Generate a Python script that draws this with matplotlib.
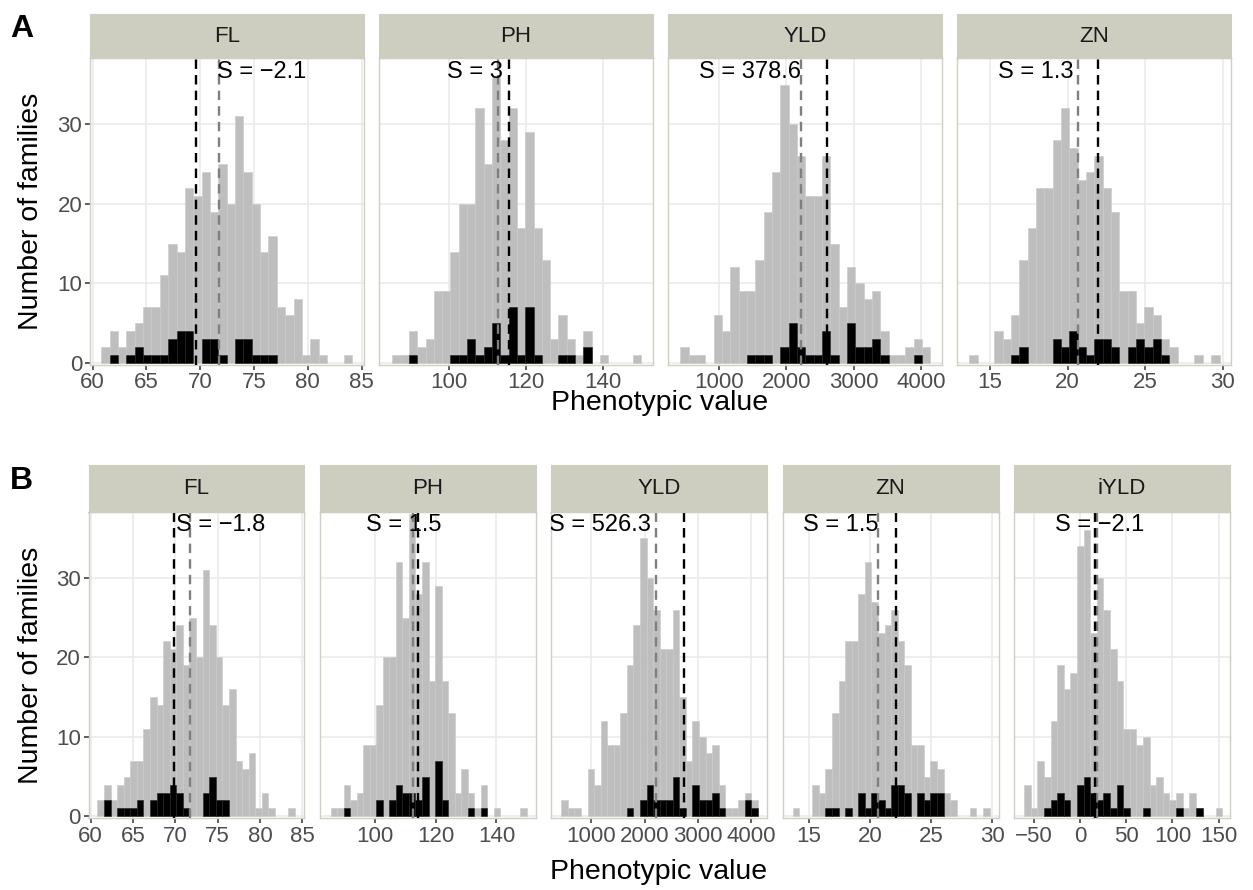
import numpy as np
import matplotlib
matplotlib.use("Agg")
import matplotlib.pyplot as plt

plt.rcParams['font.family'] = ['Liberation Sans', 'DejaVu Sans']

# ---------------- data ----------------
traits_A = ["FL", "PH", "YLD", "ZN"]
traits_B = ["FL", "PH", "YLD", "ZN", "iYLD"]

# histogram bins (30 bins per trait): first edge and bin width
bin_start = {"FL": 60.8, "PH": 85.3, "YLD": 433.0, "ZN": 13.67, "iYLD": -60.5}
bin_width = {"FL": 0.777, "PH": 2.155, "YLD": 123.3, "ZN": 0.537, "iYLD": 7.15}

# all families (grey)
FL_all = [2, 4, 2, 4, 5, 7, 7, 11, 15, 14, 22, 21, 24, 19, 25, 20, 31, 24, 20, 14, 16, 7, 6, 8, 1, 3, 1, 0, 0, 1]
PH_all_A = [1, 1, 4, 2, 3, 9, 9, 14, 20, 20, 32, 25, 36, 28, 32, 17, 29, 17, 13, 3, 6, 3, 1, 4, 0, 1, 0, 0, 0, 1]
PH_all_B = [1, 1, 4, 2, 3, 9, 9, 14, 20, 20, 32, 25, 38, 28, 32, 17, 29, 17, 13, 3, 6, 3, 1, 4, 0, 1, 0, 0, 0, 1]
YLD_all = [2, 1, 1, 0, 6, 4, 12, 9, 9, 13, 19, 24, 35, 30, 26, 21, 21, 26, 15, 7, 12, 10, 8, 9, 4, 1, 1, 2, 3, 2]
ZN_all = [1, 0, 0, 4, 3, 6, 13, 17, 22, 22, 28, 32, 27, 23, 24, 26, 22, 19, 9, 9, 5, 7, 6, 3, 2, 0, 0, 1, 0, 1]
iYLD_all = [4, 1, 7, 5, 12, 19, 16, 18, 34, 36, 23, 30, 26, 21, 17, 11, 11, 9, 10, 4, 5, 3, 2, 3, 1, 3, 1, 0, 0, 1]

# selected families (black)
FL_sel_A = [0, 1, 0, 1, 2, 1, 1, 1, 3, 4, 4, 0, 3, 3, 1, 0, 3, 3, 1, 1, 1, 0, 0, 0, 0, 0, 0, 0, 0, 0]
PH_sel_A = [0, 0, 1, 0, 0, 0, 0, 1, 1, 3, 1, 2, 5, 1, 7, 1, 7, 1, 0, 0, 1, 1, 0, 2, 0, 0, 0, 0, 0, 0]
YLD_sel_A = [0, 0, 0, 0, 0, 0, 0, 0, 1, 1, 1, 0, 2, 5, 2, 1, 1, 4, 1, 0, 5, 2, 2, 3, 1, 0, 0, 0, 1, 0]
ZN_sel_A = [0, 0, 0, 0, 0, 1, 2, 0, 0, 0, 3, 2, 4, 2, 1, 3, 3, 2, 0, 2, 3, 2, 3, 1, 0, 0, 0, 0, 0, 0]

FL_sel_B = [0, 2, 0, 1, 1, 1, 2, 0, 2, 3, 3, 4, 3, 1, 0, 0, 3, 5, 2, 2, 0, 0, 0, 0, 0, 0, 0, 0, 0, 0]
PH_sel_B = [0, 0, 1, 0, 0, 0, 0, 2, 0, 2, 4, 3, 3, 2, 5, 0, 7, 2, 0, 0, 0, 1, 0, 1, 0, 0, 0, 0, 0, 0]
YLD_sel_B = [0, 0, 0, 0, 0, 0, 0, 0, 0, 0, 1, 0, 2, 4, 2, 2, 2, 5, 1, 0, 4, 2, 2, 3, 1, 0, 0, 0, 2, 1]
ZN_sel_B = [0, 0, 0, 0, 0, 1, 1, 0, 1, 0, 3, 1, 3, 2, 1, 4, 4, 3, 0, 3, 2, 3, 3, 0, 0, 0, 0, 0, 0, 0]
iYLD_sel_B = [0, 0, 0, 1, 2, 3, 2, 0, 4, 5, 3, 2, 3, 1, 4, 1, 0, 0, 1, 0, 0, 0, 0, 1, 0, 0, 1, 0, 0, 0]

# means: population (grey dashed) and selected (black dashed)
mean_all = {"FL": 71.7, "PH": 112.6, "YLD": 2220.0, "ZN": 20.65, "iYLD": 18.7}
mean_sel_A = {"FL": 69.6, "PH": 115.6, "YLD": 2598.6, "ZN": 21.95}
mean_sel_B = {"FL": 69.9, "PH": 114.1, "YLD": 2746.3, "ZN": 22.15, "iYLD": 16.6}

# selection differentials
S_A = {"FL": -2.1, "PH": 3, "YLD": 378.6, "ZN": 1.3}
S_B = {"FL": -1.8, "PH": 1.5, "YLD": 526.3, "ZN": 1.5, "iYLD": -2.1}

# x tick labels
xticks = {"FL": [60, 65, 70, 75, 80, 85], "PH": [100, 120, 140],
          "YLD": [1000, 2000, 3000, 4000], "ZN": [15, 20, 25, 30],
          "iYLD": [-50, 0, 50, 100, 150]}
yticks = [0, 10, 20, 30]

all_A = {"FL": FL_all, "PH": PH_all_A, "YLD": YLD_all, "ZN": ZN_all}
all_B = {"FL": FL_all, "PH": PH_all_B, "YLD": YLD_all, "ZN": ZN_all, "iYLD": iYLD_all}
sel_A = {"FL": FL_sel_A, "PH": PH_sel_A, "YLD": YLD_sel_A, "ZN": ZN_sel_A}
sel_B = {"FL": FL_sel_B, "PH": PH_sel_B, "YLD": YLD_sel_B, "ZN": ZN_sel_B, "iYLD": iYLD_sel_B}

# ---------------- layout ----------------
W, H = 1253, 890
fig = plt.figure(figsize=(W / 100, H / 100), dpi=100)
fig.patch.set_facecolor("white")

xlim = {"FL": (59.75, 85.25), "PH": (81.8, 153.0), "YLD": (245, 4306),
        "ZN": (12.86, 30.52), "iYLD": (-71.4, 162.3)}
text_x_A = {"FL": 75.7, "PH": 106.6, "YLD": 1469, "ZN": 17.95}
text_x_B = {"FL": 75.3, "PH": 109.6, "YLD": 1156, "ZN": 17.64, "iYLD": 21.0}

STRIP = "#CDCDC0"
BORDER = "#CFCFC4"
GRID = "#EBEBEB"
GREY_BAR = "#BEBEBE"


def px_rect(x0, y0, x1, y1):
    return [x0 / W, 1 - y1 / H, (x1 - x0) / W, (y1 - y0) / H]


def fmt_s(v):
    return ("S = " + f"{v:g}").replace("-", "\u2212")


def draw_row(traits, allc, selc, msel, S, txtx, x_left, x_right, gap,
             strip_top, panel_top, panel_bottom):
    n = len(traits)
    pw = (x_right - x_left - gap * (n - 1)) / n
    for i, t in enumerate(traits):
        x0 = x_left + i * (pw + gap)
        x1 = x0 + pw
        ax = fig.add_axes(px_rect(x0, panel_top, x1, panel_bottom))
        sax = fig.add_axes(px_rect(x0, strip_top, x1, panel_top))
        # strip
        sax.set_facecolor(STRIP)
        sax.set_xticks([]); sax.set_yticks([])
        for sp in sax.spines.values():
            sp.set_color(STRIP)
        sax.text(0.5, 0.5, t, ha="center", va="center", fontsize=16,
                 color="#1A1A1A", transform=sax.transAxes)

        edges = bin_start[t] + bin_width[t] * np.arange(31)
        a = np.array(allc[t], dtype=float)
        s = np.array(selc[t], dtype=float)
        ma = a > 0
        ms = s > 0
        ax.bar(edges[:-1][ma], a[ma], width=bin_width[t], align="edge",
               color=GREY_BAR, edgecolor="#C9C9C9", linewidth=0.4, zorder=2)
        ax.bar(edges[:-1][ms], s[ms], width=bin_width[t], align="edge",
               color="black", edgecolor="#222222", linewidth=0.4, zorder=3)
        ax.axvline(mean_all[t], color="#7F7F7F", lw=1.7, ls=(0, (4, 2.6)), zorder=4)
        ax.axvline(msel[t], color="black", lw=1.7, ls=(0, (4, 2.6)), zorder=5)
        ax.text(txtx[t], 36.6, fmt_s(S[t]), ha="center", va="center",
                fontsize=17, color="black", clip_on=True, zorder=6)

        ax.set_xlim(*xlim[t])
        ax.set_ylim(-0.2, 38.3)
        ax.set_xticks(xticks[t])
        ax.set_xticklabels([str(v).replace("-", "\u2212") for v in xticks[t]])
        ax.set_yticks(yticks)
        ax.grid(True, color=GRID, lw=1.2, zorder=0)
        ax.set_axisbelow(True)
        for sp in ax.spines.values():
            sp.set_color(BORDER)
            sp.set_linewidth(1.0)
        ax.tick_params(axis="both", direction="out", length=3.6, width=1.1,
                       color="#333333", labelcolor="#4D4D4D", labelsize=16, pad=2)
        if i == 0:
            ax.set_yticklabels([str(v) for v in yticks])
        else:
            ax.tick_params(axis="y", left=False, labelleft=False)


draw_row(traits_A, all_A, sel_A, mean_sel_A, S_A, text_x_A,
         90, 1231, 14.6, 14, 58.3, 364.5)
draw_row(traits_B, all_B, sel_B, mean_sel_B, S_B, text_x_B,
         88.5, 1230, 15.5, 465, 511.7, 818)

# axis titles
fig.text(660 / W, 1 - 403 / H, "Phenotypic value", ha="center", va="center", fontsize=20.5)
fig.text(659 / W, 1 - 872 / H, "Phenotypic value", ha="center", va="center", fontsize=20.5)
fig.text(31 / W, 1 - 211 / H, "Number of families", ha="center", va="center",
         rotation=90, fontsize=20.5)
fig.text(31 / W, 1 - 665 / H, "Number of families", ha="center", va="center",
         rotation=90, fontsize=20.5)

# panel tags
fig.text(10 / W, 1 - 29 / H, "A", ha="left", va="center", fontsize=23, fontweight="bold")
fig.text(10 / W, 1 - 481 / H, "B", ha="left", va="center", fontsize=23, fontweight="bold")

fig.savefig("out.png", dpi=100)
